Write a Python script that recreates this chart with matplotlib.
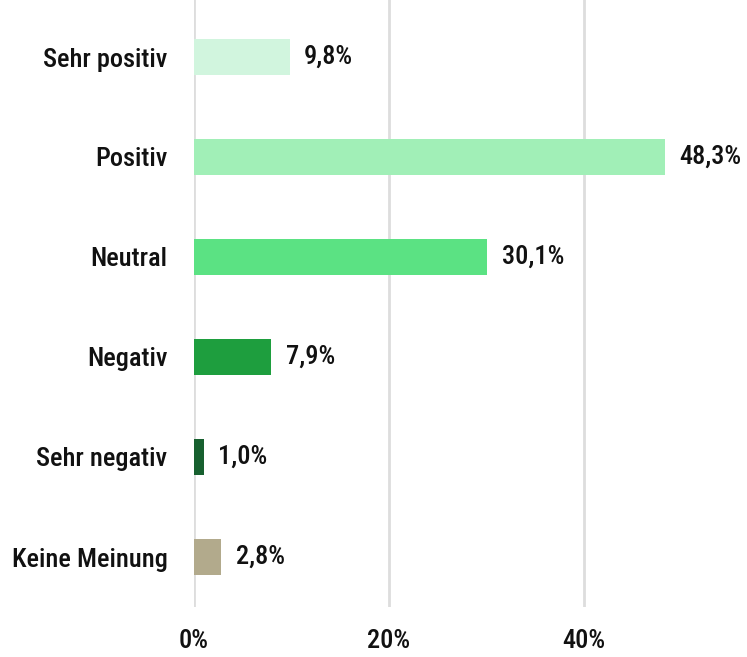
import matplotlib
matplotlib.use("Agg")
import matplotlib.pyplot as plt

categories = ["Sehr positiv", "Positiv", "Neutral", "Negativ", "Sehr negativ", "Keine Meinung"]
values = [9.8, 48.3, 30.1, 7.9, 1.0, 2.8]
colors = ["#D1F5DE", "#A1EFB7", "#5BE283", "#1E9E3E", "#17602F", "#B2AA8C"]
xticks = [0, 20, 40]
xticklabels = ["0%", "20%", "40%"]

plt.rcParams['font.family'] = ['Roboto Condensed', 'DejaVu Sans']
FS = 19
FW = 500

fig = plt.figure(figsize=(7.47, 6.57), dpi=100)
ax = fig.add_axes([194/747, 1 - 607/657, (747-194)/747, 607/657])

ypos = list(range(len(categories)))
ax.barh(ypos, values, height=0.36, color=colors, zorder=2)
for y, v in zip(ypos, values):
    ax.annotate(f"{v:.1f}%".replace(".", ","), xy=(v, y), xytext=(10.5, 0),
                textcoords="offset points", va="center", ha="left",
                fontsize=FS, color="#111111", fontweight=FW)

ax.set_ylim(5.5, -0.57)
ax.set_xlim(0, (747-194)/9.75)
ax.set_yticks(ypos)
ax.set_yticklabels(categories, fontsize=FS, color="#111111", fontweight=FW)
ax.set_xticks(xticks)
ax.set_xticklabels(xticklabels, fontsize=FS, color="#111111", fontweight=FW)
ax.tick_params(axis="both", length=0)
ax.tick_params(axis="y", pad=19)
ax.tick_params(axis="x", pad=16)
ax.grid(axis="x", color="#DDDDDD", linewidth=2, zorder=0)
for s in ax.spines.values():
    s.set_visible(False)

fig.savefig("out.png", dpi=100)
